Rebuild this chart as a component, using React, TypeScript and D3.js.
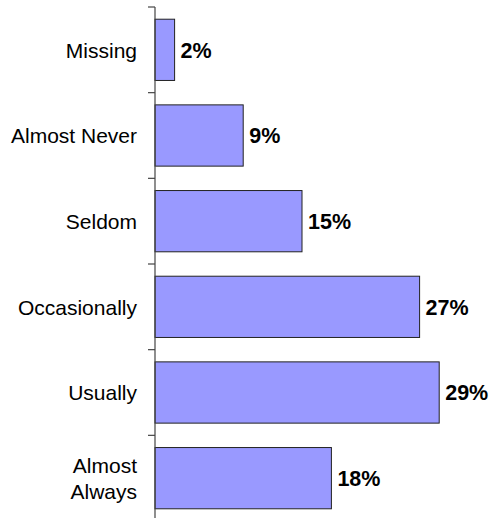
import React from "react";
import * as d3 from "d3";

const categories: string[][] = [
  ["Missing"],
  ["Almost Never"],
  ["Seldom"],
  ["Occasionally"],
  ["Usually"],
  ["Almost", "Always"],
];
const values: number[] = [2, 9, 15, 27, 29, 18];
const valueLabels: string[] = ["2%", "9%", "15%", "27%", "29%", "18%"];

const W = 491;
const H = 518;

export default function App() {
  const keys = categories.map((c) => c.join(" "));
  const y = d3
    .scaleBand<string>()
    .domain(keys)
    .range([7, 521])
    .paddingInner(0.285)
    .paddingOuter(0.1425);
  const x = d3.scaleLinear().domain([0, 30]).range([155, 449]);
  const step = y.step();
  const tickYs = d3.range(keys.length + 1).map((i) => 7 + i * step);
  const font = "Arial, 'Liberation Sans', Helvetica, sans-serif";

  return (
    <div style={{ position: "fixed", left: 0, top: 0 }}>
      <svg width={W} height={H} style={{ display: "block", background: "#fff" }}>
        {keys.map((k, i) => {
          const y0 = y(k)!;
          const bh = y.bandwidth();
          const cy = y0 + bh / 2;
          const lines = categories[i];
          const lh = 26;
          return (
            <g key={k}>
              <rect
                x={x(0)}
                y={y0}
                width={x(values[i]) - x(0)}
                height={bh}
                fill="#9999ff"
                stroke="#222"
                strokeWidth={1}
              />
              <text
                x={x(values[i]) + 6}
                y={cy}
                dy="0.37em"
                fontFamily={font}
                fontWeight="bold"
                fontSize={21.5}
                fill="#000"
              >
                {valueLabels[i]}
              </text>
              {lines.map((ln, j) => (
                <text
                  key={j}
                  x={137}
                  y={cy + (j - (lines.length - 1) / 2) * lh}
                  dy="0.37em"
                  textAnchor="end"
                  fontFamily={font}
                  fontSize={21}
                  fill="#000"
                >
                  {ln}
                </text>
              ))}
            </g>
          );
        })}
        <line x1={155} x2={155} y1={tickYs[0]} y2={tickYs[tickYs.length - 1]} stroke="#444" strokeWidth={1.2} />
        {tickYs.map((t, i) => (
          <line key={i} x1={148} x2={155} y1={t} y2={t} stroke="#444" strokeWidth={1.2} />
        ))}
      </svg>
    </div>
  );
}
